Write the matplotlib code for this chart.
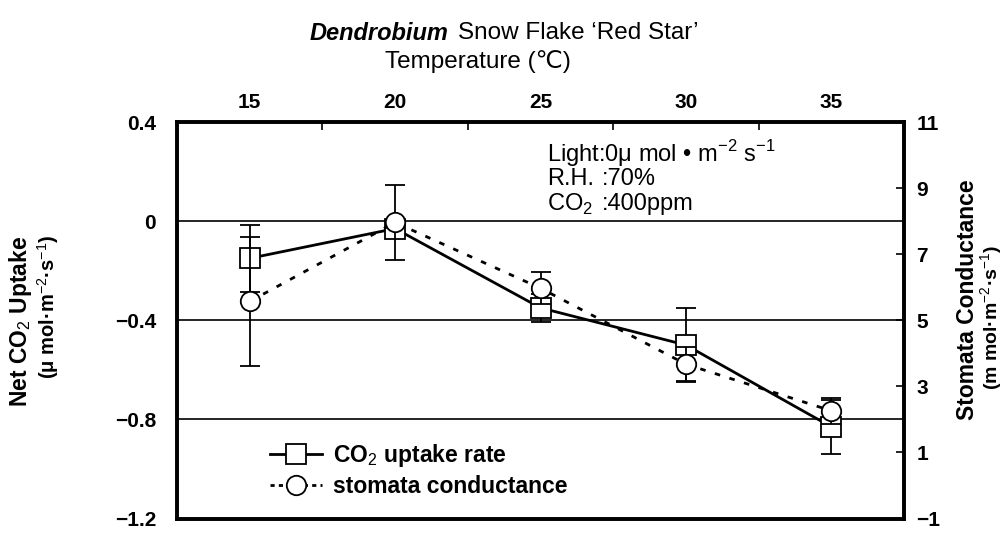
import matplotlib
matplotlib.use("Agg")
import matplotlib.pyplot as plt
from matplotlib.lines import Line2D
from matplotlib.ticker import FixedLocator

plt.rcParams['font.family'] = ['Liberation Sans', 'DejaVu Sans']
plt.rcParams['mathtext.fontset'] = 'custom'
plt.rcParams['mathtext.rm'] = 'Liberation Sans'
plt.rcParams['mathtext.bf'] = 'Liberation Sans:bold'

# data
temps = ["15", "20", "25", "30", "35"]
co2_uptake = [-0.15, -0.03, -0.35, -0.50, -0.83]
co2_err = [0.135, 0.02, 0.055, 0.15, 0.11]
conductance = [5.57, 7.96, 5.97, 3.67, 2.26]
cond_err = [1.95, 1.13, 0.48, 0.51, 0.40]

x = list(range(len(temps)))
H = 534
W = 1006

fig = plt.figure(figsize=(10.06, 5.34), dpi=100)
ax = fig.add_axes([0.176, 0.029, 0.7226, 0.7425])
ax2 = ax.twinx()

# CO2 uptake (left axis)
ax.errorbar(x, co2_uptake, yerr=co2_err, color='black', lw=2.0, elinewidth=1.3,
            capsize=7, capthick=1.3, marker='s', ms=14, mfc='white', mec='black',
            mew=1.3, zorder=3)
# stomata conductance (right axis)
ax2.errorbar(x, conductance, yerr=cond_err, color='black', lw=2.0, ls=(0, (2, 3.5)),
             elinewidth=1.3, capsize=7, capthick=1.3, marker='o', ms=14,
             mfc='white', mec='black', mew=1.3, zorder=3)

ax.set_xlim(-0.5, 4.5)
ax.set_ylim(-1.2, 0.4)
ax.set_yticks([0.4, 0, -0.4, -0.8, -1.2])
ax.set_yticklabels(["0.4", "0", "\u22120.4", "\u22120.8", "\u22121.2"])
ax.yaxis.grid(True, color='black', lw=1.2)
ax.set_axisbelow(True)

ax2.set_ylim(-1, 11)
ax2.set_yticks([11, 9, 7, 5, 3, 1, -1])
ax2.set_yticklabels(["11", "9", "7", "5", "3", "1", "\u22121"])

ax.xaxis.tick_top()
ax.set_xticks(x)
ax.set_xticklabels(temps)
ax.xaxis.set_minor_locator(FixedLocator([0.5, 1.5, 2.5, 3.5]))
tick_font = dict(labelsize=15)
ax.tick_params(axis='x', which='major', length=0, pad=7, **tick_font)
ax.tick_params(axis='x', which='minor', direction='in', length=6, width=1.2, top=True, bottom=False)
ax.tick_params(axis='y', direction='in', length=0, pad=15, **tick_font)
ax2.tick_params(axis='y', direction='in', length=6, width=1.2, pad=9, **tick_font)
for lab in ax.get_xticklabels() + ax.get_yticklabels() + ax2.get_yticklabels():
    lab.set_fontweight('bold')

for a in (ax, ax2):
    for s in a.spines.values():
        s.set_linewidth(2.6)

# condition text
cfs = 17
fig.text(547 / W, 1 - 154 / H, "Light:0\u03bc mol \u2022 m$^{-2}$ s$^{-1}$", fontsize=cfs, va='center')
fig.text(547 / W, 1 - 179 / H, "R.H.", fontsize=cfs, va='center')
fig.text(602 / W, 1 - 179 / H, ":70%", fontsize=cfs, va='center')
fig.text(547 / W, 1 - 204 / H, "CO$_2$", fontsize=cfs, va='center')
fig.text(602 / W, 1 - 204 / H, ":400ppm", fontsize=cfs, va='center')

# legend
handles = [
    Line2D([], [], color='black', lw=2.0, marker='s', ms=14, mfc='white', mew=1.3),
    Line2D([], [], color='black', lw=2.0, ls=(0, (1.5, 1.5)), marker='o', ms=14,
           mfc='white', mew=1.3),
]
ax.legend(handles, ["CO$_2$ uptake rate", "stomata conductance"], loc='lower left',
          bbox_to_anchor=(0.1, 0.0), frameon=False,
          prop={'weight': 'bold', 'size': 16.5}, handlelength=2.25,
          handletextpad=0.5, labelspacing=0.25)

# titles
fig.text(448 / W, 1 - 33 / H, "Dendrobium", style='italic', fontweight='bold',
         fontsize=17, ha='right', va='center')
fig.text(458 / W, 1 - 33 / H, "Snow Flake \u2018Red Star\u2019", fontsize=17.5,
         ha='left', va='center')
fig.text(478 / W, 1 - 62 / H, "Temperature (\u2103)", fontsize=17.5, ha='center', va='center')

# axis labels
fig.text(21 / W, 1 - 321 / H, "Net CO$_2$ Uptake", rotation=90, fontsize=16.5,
         fontweight='bold', ha='center', va='center')
fig.text(48 / W, 1 - 307 / H, "(\u03bc mol\u00b7m$^{-2}$\u00b7s$^{-1}$)", rotation=90,
         fontsize=14.5, fontweight='bold', ha='center', va='center')
fig.text(967 / W, 1 - 300 / H, "Stomata Conductance", rotation=90, fontsize=16.5,
         fontweight='bold', ha='center', va='center')
fig.text(992 / W, 1 - 317 / H, "(m mol\u00b7m$^{-2}$\u00b7s$^{-1}$)", rotation=90,
         fontsize=14, fontweight='bold', ha='center', va='center')

fig.savefig("out.png", dpi=100)
